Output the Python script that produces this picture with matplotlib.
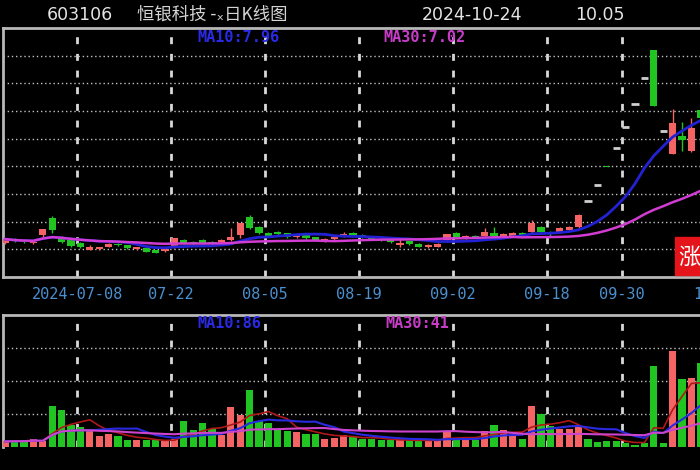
import numpy as np
import pandas as pd
import matplotlib
matplotlib.use("Agg")
import matplotlib.pyplot as plt
from matplotlib.patches import Rectangle

plt.rcParams['font.family'] = ['DejaVu Sans', 'Noto Sans CJK SC']

# 2024 trading sessions on the daily K chart
sessions = [
    "06-26", "06-27", "06-28",
    "07-01", "07-02", "07-03", "07-04", "07-05", "07-08", "07-09", "07-10", "07-11", "07-12",
    "07-15", "07-16", "07-17", "07-18", "07-19", "07-22", "07-23", "07-24", "07-25", "07-26",
    "07-29", "07-30", "07-31", "08-01", "08-02", "08-05", "08-06", "08-07", "08-08", "08-09",
    "08-12", "08-13", "08-14", "08-15", "08-16", "08-19", "08-20", "08-21", "08-22", "08-23",
    "08-26", "08-27", "08-28", "08-29", "08-30", "09-02", "09-03", "09-04", "09-05", "09-06",
    "09-09", "09-10", "09-11", "09-12", "09-13", "09-18", "09-19", "09-20",
    "09-23", "09-24", "09-25", "09-26", "09-27", "09-30",
    "10-08", "10-09", "10-10", "10-11", "10-14", "10-15", "10-16", "10-17", "10-18",
    "10-21", "10-22", "10-23", "10-24",
]

opens = [4.22, 4.38, 4.35, 4.22, 4.51, 5.15, 4.42, 4.35, 4.22, 3.98,
         4.01, 4.10, 4.20, 4.14, 4.01, 4.04, 3.96, 3.93, 4.07, 4.33,
         4.28, 4.35, 4.28, 4.25, 4.34, 4.51, 5.16, 4.80, 4.59, 4.62,
         4.58, 4.44, 4.52, 4.43, 4.30, 4.36, 4.46, 4.60, 4.52, 4.45,
         4.38, 4.42, 4.17, 4.29, 4.20, 4.08, 4.10, 4.32, 4.58, 4.40,
         4.50, 4.50, 4.60, 4.42, 4.46, 4.60, 4.62, 4.80, 4.62, 4.62,
         4.70, 4.80, 5.75, 6.33, 6.97, 7.66, 8.43, 9.27, 10.20, 11.22,
         8.26, 7.43, 8.10, 7.55, 9.05]
highs = [4.42, 4.42, 4.38, 4.32, 4.75, 5.22, 4.48, 4.40, 4.25, 4.14,
         4.09, 4.22, 4.23, 4.16, 4.10, 4.06, 3.98, 4.05, 4.42, 4.36,
         4.30, 4.38, 4.30, 4.36, 4.76, 4.96, 5.23, 4.85, 4.62, 4.66,
         4.60, 4.56, 4.55, 4.45, 4.40, 4.49, 4.62, 4.63, 4.55, 4.48,
         4.40, 4.45, 4.40, 4.31, 4.22, 4.18, 4.23, 4.56, 4.61, 4.53,
         4.53, 4.77, 4.80, 4.60, 4.64, 4.63, 5.05, 4.86, 4.66, 4.80,
         4.83, 5.26, 5.75, 6.33, 6.97, 7.66, 8.43, 9.27, 10.20, 11.22,
         8.26, 9.08, 8.62, 8.74, 9.50]
lows = [4.18, 4.27, 4.24, 4.20, 4.40, 4.58, 4.22, 4.10, 4.05, 3.96,
        3.99, 4.08, 4.12, 4.03, 3.99, 3.90, 3.85, 3.90, 4.05, 4.20,
        4.20, 4.21, 4.19, 4.23, 4.30, 4.40, 4.74, 4.55, 4.45, 4.52,
        4.42, 4.42, 4.38, 4.30, 4.28, 4.34, 4.44, 4.47, 4.40, 4.35,
        4.30, 4.24, 4.07, 4.16, 4.07, 4.06, 4.08, 4.28, 4.41, 4.38,
        4.41, 4.47, 4.45, 4.40, 4.43, 4.47, 4.58, 4.58, 4.50, 4.60,
        4.67, 4.76, 5.75, 6.33, 6.96, 7.66, 8.43, 9.27, 10.20, 9.18,
        8.26, 7.43, 7.57, 7.52, 8.60]
closes = [4.37, 4.30, 4.28, 4.28, 4.72, 4.70, 4.26, 4.12, 4.08, 4.10,
          4.07, 4.20, 4.15, 4.05, 4.07, 3.92, 3.88, 4.03, 4.40, 4.23,
          4.22, 4.24, 4.22, 4.34, 4.44, 4.94, 4.77, 4.58, 4.48, 4.55,
          4.45, 4.53, 4.41, 4.33, 4.38, 4.46, 4.57, 4.50, 4.44, 4.38,
          4.33, 4.27, 4.23, 4.19, 4.10, 4.16, 4.20, 4.54, 4.44, 4.50,
          4.44, 4.62, 4.48, 4.56, 4.60, 4.50, 4.94, 4.62, 4.55, 4.76,
          4.80, 5.23, 5.75, 6.33, 6.96, 7.66, 8.43, 9.27, 10.20, 9.18,
          8.26, 8.55, 7.95, 8.37, 8.75]
volumes = [8.5, 9, 9, 12, 8.5, 62, 56, 33, 30, 25,
           17, 20, 16, 10, 11, 10, 10, 8.5, 12, 39,
           26, 36, 27, 18, 60, 48, 86, 39, 36, 28,
           25, 22, 20, 20, 12, 14, 18, 15, 12, 12,
           10, 10, 10, 10, 10, 10, 10, 25, 13, 13,
           10, 24, 34, 26, 17, 12, 62, 50, 32, 28,
           28, 30, 12, 7, 9.5, 9.5, 5.5, 3, 5.5, 122,
           5.5, 146, 103, 105, 127]

tick_dates = ["07-08", "07-22", "08-05", "08-19", "09-02", "09-18", "09-30", "10-21"]
tick_labels = ["2024-07-08", "07-22", "08-05", "08-19", "09-02", "09-18", "09-30", "10-21"]

RED = "#f46464"
GREEN = "#22c422"
DOJI = "#cfcfcf"
FRAME = "#b8b8b8"
GRID = "#c4c4c4"

W, H = 700, 470
X0, STEP = 5.2, 9.4   # pixel centre of the first session and session spacing


def fx(x):
    return x / W


def fy(y):
    return 1 - y / H


def box(left, top, right, bottom):
    return [fx(left), fy(bottom), (right - left) / W, (bottom - top) / H]


o, h, l, c = (np.array(a, dtype=float) for a in (opens, highs, lows, closes))
vol = np.array(volumes, dtype=float)
idx = np.arange(len(c))
up = c > o
flat = np.isclose(o, c)
col = np.where(up, RED, GREEN)

close_s = pd.Series(c)
ma10 = close_s.rolling(10, min_periods=1).mean()
ma30 = close_s.rolling(30, min_periods=1).mean()
vol_s = pd.Series(vol)
vma5 = vol_s.rolling(5, min_periods=1).mean()
vma10 = vol_s.rolling(10, min_periods=1).mean()
vma30 = vol_s.rolling(30, min_periods=1).mean()

tick_pos = [sessions.index(d) - 0.35 for d in tick_dates]

fig = plt.figure(figsize=(7, 4.7), dpi=100, facecolor="black")
ax = fig.add_axes(box(3, 28, 820, 277))
axv = fig.add_axes(box(3, 315, 820, 447))

xlim = ((3 - X0) / STEP, (820 - X0) / STEP)
for a in (ax, axv):
    a.set_facecolor("black")
    a.set_xlim(*xlim)
    a.set_axisbelow(True)
    a.spines["right"].set_visible(False)
    for s in ("top", "left", "bottom"):
        a.spines[s].set_color(FRAME)
        a.spines[s].set_linewidth(2)
    a.set_xticks(tick_pos)
    a.tick_params(axis="y", length=0, labelleft=False)
    a.grid(axis="x", color="#d8d8d8", linestyle=(0, (2.5, 3.5)), linewidth=2)
    a.grid(axis="y", color=GRID, linestyle=(0, (1, 2)), linewidth=1)

axv.spines["bottom"].set_visible(False)

# price panel
ax.set_ylim(3, 12)
ax.set_yticks(range(4, 12))
ax.set_xticklabels(tick_labels)
ax.tick_params(axis="x", length=0, pad=7, labelsize=11, labelcolor="#4a90d0")
for lbl in ax.get_xticklabels():
    lbl.set_family("DejaVu Sans Mono")

ax.vlines(idx, l, h, colors=col, linewidth=1, zorder=3)
body = np.maximum(np.abs(c - o), 0.04)
solid = ~flat
ax.bar(idx[solid], body[solid], bottom=np.minimum(o, c)[solid], width=0.78,
       color=col[solid], zorder=3)
ax.hlines(c[flat], idx[flat] - 0.39, idx[flat] + 0.39, colors=DOJI, linewidth=2, zorder=3)
ax.plot(idx, ma10, color="#2222d4", linewidth=2, zorder=4)
ax.plot(idx, ma30, color="#d23cd2", linewidth=1.8, zorder=4)

# volume panel
axv.set_ylim(0, 200)
axv.set_yticks([50, 100, 150])
axv.tick_params(axis="x", length=0, labelbottom=False)
axv.bar(idx, vol, width=0.75, color=col, zorder=3)
axv.plot(idx, vma5, color="#b01818", linewidth=1.2, zorder=4)
axv.plot(idx, vma10, color="#2a2ae0", linewidth=1.5, zorder=4)
axv.plot(idx, vma30, color="#cc44cc", linewidth=1.5, zorder=4)

# header line
fig.text(fx(47), fy(15), "603106", color="#e4e4e4", fontsize=12.5, va="center")
fig.text(fx(137), fy(15), "恒银科技 -ₓ日K线图", color="#d4d4d4", fontsize=12.5, va="center",
         family=["Noto Sans CJK SC", "DejaVu Sans"])
fig.text(fx(422), fy(15), "2024-10-24", color="#e4e4e4", fontsize=12.5, va="center")
fig.text(fx(575), fy(15), "10.05", color="#e4e4e4", fontsize=12.5, va="center")

# moving average readouts
label_kw = dict(family="DejaVu Sans Mono", fontsize=11, fontweight="bold", va="center")
fig.text(fx(197), fy(37), "MA10:7.96", color="#2a2ae6", **label_kw)
fig.text(fx(383), fy(37), "MA30:7.02", color="#c83cc8", **label_kw)
fig.text(fx(197), fy(324), "MA10:86", color="#2a2ae6", **label_kw)
fig.text(fx(385), fy(324), "MA30:41", color="#c83cc8", **label_kw)

# red badge on the right edge
fig.add_artist(Rectangle((fx(675), fy(275)), (760 - 675) / W, (275 - 237) / H,
                         transform=fig.transFigure, color="#e5141b", zorder=10))
fig.text(fx(678), fy(257), "涨停", color="white", fontsize=16, va="center",
         family=["Noto Sans CJK SC", "DejaVu Sans"], zorder=11)

fig.savefig("out.png", dpi=100, facecolor="black")
